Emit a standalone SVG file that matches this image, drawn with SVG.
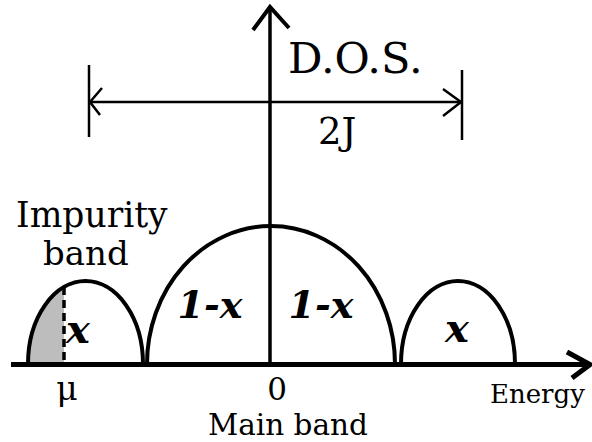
<svg xmlns="http://www.w3.org/2000/svg" width="592" height="442" viewBox="0 0 592 442">
<style>
.ln{fill:none;stroke:#000;stroke-linecap:butt;stroke-linejoin:miter}
.t{font-family:"DejaVu Serif","Liberation Serif",serif;fill:#000}
.bi{font-family:"DejaVu Serif","Liberation Serif",serif;font-weight:bold;font-style:italic;fill:#000}
</style>
<rect width="592" height="442" fill="#fff"/>
<g id="impurity-band">
<path d="M28,364 A57.5,83 0 0 1 64,287 L64,364 Z" fill="#bdbdbd"/>
<path class="ln" d="M28,364 A57.5,83 0 0 1 143,364" stroke-width="4"/>
<line class="ln" x1="64" y1="287" x2="64" y2="364" stroke-width="3.5" stroke-dasharray="8,5"/>
<text class="bi" x="78" y="343" font-size="40" text-anchor="middle">x</text>
</g>
<g id="main-band">
<path class="ln" d="M147,364 A124,138 0 0 1 395,364" stroke-width="4"/>
<text class="bi" x="210" y="318" font-size="38" text-anchor="middle">1-x</text>
<text class="bi" x="321" y="318" font-size="38" text-anchor="middle">1-x</text>
</g>
<g id="right-band">
<path class="ln" d="M401,364 A57,83 0 0 1 515,364" stroke-width="4"/>
<text class="bi" x="457" y="342" font-size="40" text-anchor="middle">x</text>
</g>
<g id="connectors">
<line class="ln" x1="11" y1="364.5" x2="590" y2="364.5" stroke-width="5"/>
<polyline class="ln" points="567,352 590,364.5 572,378" stroke-width="5"/>
<line class="ln" x1="270" y1="364" x2="270" y2="7" stroke-width="3.5"/>
<polyline class="ln" points="253,30 270,7 289,28" stroke-width="4"/>
<line class="ln" x1="89" y1="102" x2="462" y2="102" stroke-width="2.5"/>
<polyline class="ln" points="102,88 90,102 100,115" stroke-width="2.5"/>
<polyline class="ln" points="443,89 461,102 443,116" stroke-width="2.5"/>
<line class="ln" x1="89" y1="65" x2="89" y2="137" stroke-width="2.5"/>
<line class="ln" x1="462" y1="70" x2="462" y2="140" stroke-width="2.5"/>
</g>
<g id="labels">
<text class="t" x="288" y="73" font-size="43">D.O.S.</text>
<text class="t" x="318" y="144" font-size="37">2J</text>
<text class="t" x="16" y="227" font-size="34.5">Impurity</text>
<text class="t" x="43" y="265" font-size="34">band</text>
<text class="t" x="67" y="400" font-size="33" text-anchor="middle">μ</text>
<text class="t" x="277" y="400" font-size="31" text-anchor="middle">0</text>
<text class="t" x="288" y="435" font-size="29.5" text-anchor="middle">Main band</text>
<text class="t" x="490" y="403" font-size="26">Energy</text>
</g>
</svg>
